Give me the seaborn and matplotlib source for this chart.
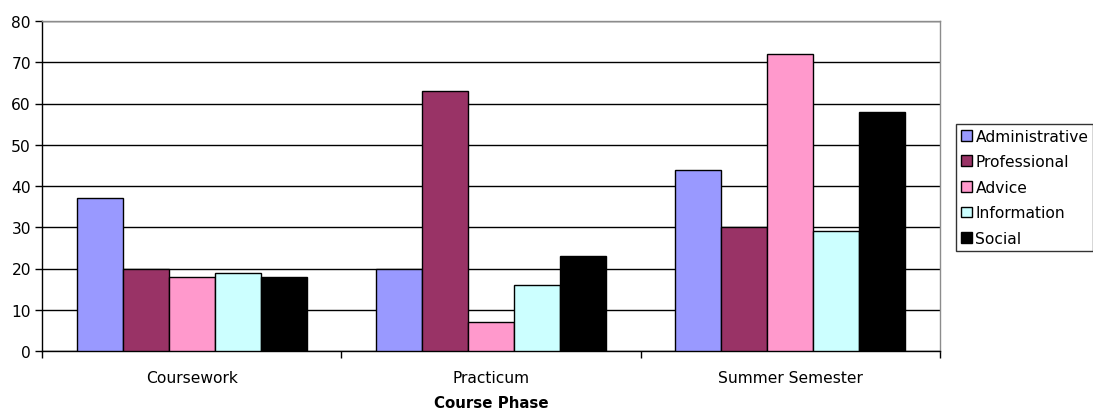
import matplotlib
matplotlib.use("Agg")
import matplotlib.pyplot as plt
import seaborn as sns
import pandas as pd

phases = ["Coursework", "Practicum", "Summer Semester"]
categories = ["Administrative", "Professional", "Advice", "Information", "Social"]
administrative = [37, 20, 44]
professional = [20, 63, 30]
advice = [18, 7, 72]
information = [19, 16, 29]
social = [18, 23, 58]
colors = ["#9999ff", "#993366", "#ff99cc", "#ccffff", "#000000"]

series = [administrative, professional, advice, information, social]
rows = []
for cat, vals in zip(categories, series):
    for ph, v in zip(phases, vals):
        rows.append({"phase": ph, "type": cat, "value": v})
df = pd.DataFrame(rows)

sns.set_theme(style="white")
plt.rcParams["font.family"] = ["DejaVu Sans"]
plt.rcParams["text.color"] = "black"
plt.rcParams["axes.labelcolor"] = "black"
plt.rcParams["xtick.color"] = "black"
plt.rcParams["ytick.color"] = "black"

FS = 11.2

fig = plt.figure(figsize=(10.93, 4.10), dpi=100)
ax = fig.add_axes([42 / 1093, 1 - 352 / 410, (940 - 42) / 1093, (352 - 22) / 410])

sns.barplot(data=df, x="phase", y="value", hue="type", order=phases,
            hue_order=categories, palette=colors, saturation=1,
            edgecolor="black", linewidth=1.0, width=5 / 6.5, gap=0,
            errorbar=None, ax=ax, zorder=3)

ax.set_ylim(0, 80)
ax.set_xlim(-0.5, 2.5)
ax.set_yticks(range(0, 81, 10))
ax.yaxis.grid(True, color="black", linewidth=1.0, zorder=0)
ax.set_axisbelow(True)

# category boundary ticks on the x axis
ax.set_xticks([0, 1, 2])
ax.set_xticks([-0.5, 0.5, 1.5, 2.5], minor=True)
ax.tick_params(axis="x", which="major", length=0, labelsize=FS, pad=14,
               labelcolor="black")
ax.tick_params(axis="x", which="minor", length=5, width=1, color="black",
               direction="out", bottom=True)
ax.tick_params(axis="y", length=5, width=1, color="black", direction="out",
               left=True, labelsize=FS, pad=3, labelcolor="black")

for side in ["left", "bottom"]:
    ax.spines[side].set_color("black")
    ax.spines[side].set_linewidth(1.0)
for side in ["top", "right"]:
    ax.spines[side].set_color("#8c8c8c")
    ax.spines[side].set_linewidth(1.0)

ax.set_ylabel("")
ax.set_xlabel("Course Phase", fontsize=FS - 0.4, fontweight="bold",
              labelpad=7, color="black")

handles, labels = ax.get_legend_handles_labels()
ax.get_legend().remove()
leg = fig.legend(handles, labels, loc="upper left",
                 bbox_to_anchor=(956 / 1093, 1 - 125 / 410),
                 frameon=True, fancybox=False, shadow=False,
                 fontsize=FS, handlelength=0.7, handleheight=0.7,
                 handletextpad=0.25, labelspacing=0.68, borderpad=0.3,
                 borderaxespad=0, labelcolor="black")
leg.get_frame().set_edgecolor("black")
leg.get_frame().set_linewidth(1.0)
for h in leg.legend_handles:
    h.set_edgecolor("black")
    h.set_linewidth(1.0)

fig.savefig("out.png", dpi=100)
